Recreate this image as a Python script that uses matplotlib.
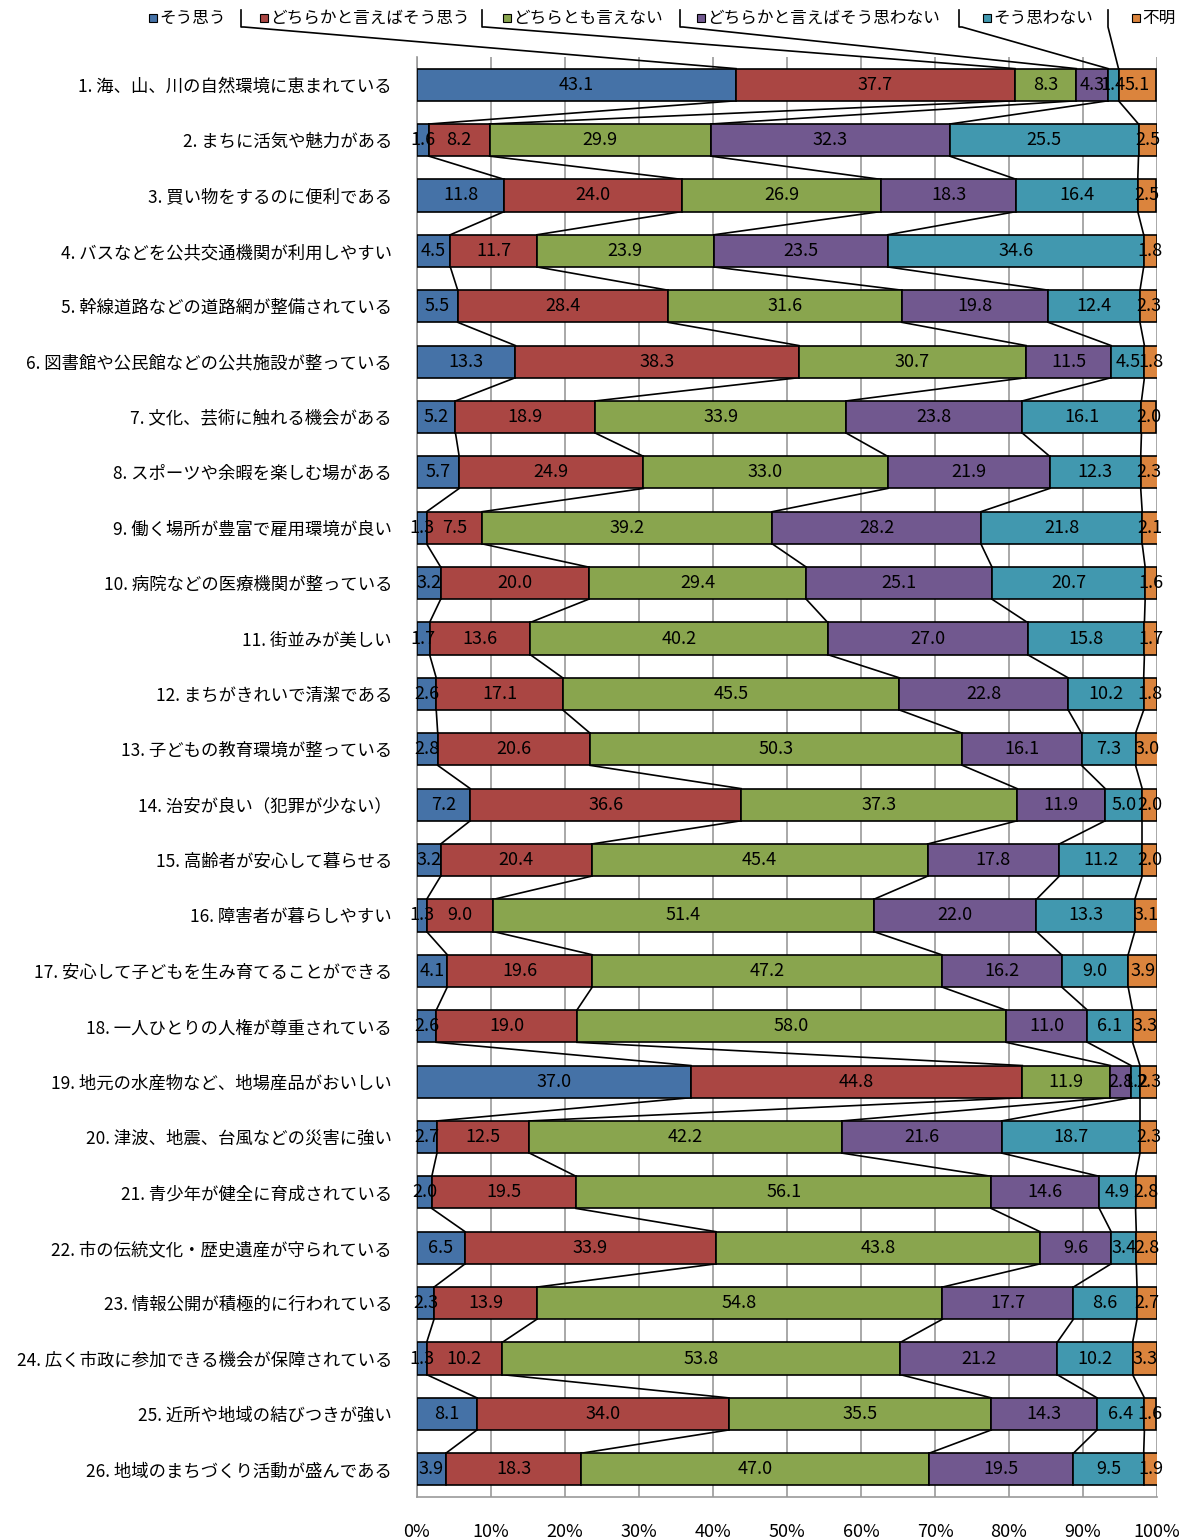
import matplotlib
matplotlib.use("Agg")
import matplotlib.pyplot as plt
from matplotlib.lines import Line2D
from matplotlib.patches import Rectangle
import numpy as np

plt.rcParams['font.family'] = ['Noto Sans CJK JP', 'DejaVu Sans']

categories = [
    "1. 海、山、川の自然環境に恵まれている",
    "2. まちに活気や魅力がある",
    "3. 買い物をするのに便利である",
    "4. バスなどを公共交通機関が利用しやすい",
    "5. 幹線道路などの道路網が整備されている",
    "6. 図書館や公民館などの公共施設が整っている",
    "7. 文化、芸術に触れる機会がある",
    "8. スポーツや余暇を楽しむ場がある",
    "9. 働く場所が豊富で雇用環境が良い",
    "10. 病院などの医療機関が整っている",
    "11. 街並みが美しい",
    "12. まちがきれいで清潔である",
    "13. 子どもの教育環境が整っている",
    "14. 治安が良い（犯罪が少ない）",
    "15. 高齢者が安心して暮らせる",
    "16. 障害者が暮らしやすい",
    "17. 安心して子どもを生み育てることができる",
    "18. 一人ひとりの人権が尊重されている",
    "19. 地元の水産物など、地場産品がおいしい",
    "20. 津波、地震、台風などの災害に強い",
    "21. 青少年が健全に育成されている",
    "22. 市の伝統文化・歴史遺産が守られている",
    "23. 情報公開が積極的に行われている",
    "24. 広く市政に参加できる機会が保障されている",
    "25. 近所や地域の結びつきが強い",
    "26. 地域のまちづくり活動が盛んである",
]

series_names = ["そう思う", "どちらかと言えばそう思う", "どちらとも言えない",
                "どちらかと言えばそう思わない", "そう思わない", "不明"]

sou_omou = [43.1, 1.6, 11.8, 4.5, 5.5, 13.3, 5.2, 5.7, 1.3, 3.2, 1.7, 2.6, 2.8,
            7.2, 3.2, 1.3, 4.1, 2.6, 37.0, 2.7, 2.0, 6.5, 2.3, 1.3, 8.1, 3.9]
dochira_sou = [37.7, 8.2, 24.0, 11.7, 28.4, 38.3, 18.9, 24.9, 7.5, 20.0, 13.6, 17.1, 20.6,
               36.6, 20.4, 9.0, 19.6, 19.0, 44.8, 12.5, 19.5, 33.9, 13.9, 10.2, 34.0, 18.3]
dochira_tomo = [8.3, 29.9, 26.9, 23.9, 31.6, 30.7, 33.9, 33.0, 39.2, 29.4, 40.2, 45.5, 50.3,
                37.3, 45.4, 51.4, 47.2, 58.0, 11.9, 42.2, 56.1, 43.8, 54.8, 53.8, 35.5, 47.0]
dochira_nai = [4.3, 32.3, 18.3, 23.5, 19.8, 11.5, 23.8, 21.9, 28.2, 25.1, 27.0, 22.8, 16.1,
               11.9, 17.8, 22.0, 16.2, 11.0, 2.8, 21.6, 14.6, 9.6, 17.7, 21.2, 14.3, 19.5]
sou_omowanai = [1.4, 25.5, 16.4, 34.6, 12.4, 4.5, 16.1, 12.3, 21.8, 20.7, 15.8, 10.2, 7.3,
                5.0, 11.2, 13.3, 9.0, 6.1, 1.2, 18.7, 4.9, 3.4, 8.6, 10.2, 6.4, 9.5]
fumei = [5.1, 2.5, 2.5, 1.8, 2.3, 1.8, 2.0, 2.3, 2.1, 1.6, 1.7, 1.8, 3.0,
         2.0, 2.0, 3.1, 3.9, 3.3, 2.3, 2.3, 2.8, 2.8, 2.7, 3.3, 1.6, 1.9]

x_ticks = [0, 10, 20, 30, 40, 50, 60, 70, 80, 90, 100]
x_tick_labels = ["0%", "10%", "20%", "30%", "40%", "50%", "60%", "70%", "80%", "90%", "100%"]

colors = ["#4572A7", "#AA4643", "#89A54E", "#71588F", "#4198AF", "#DB843D"]

W, H = 1187, 1540
fig = plt.figure(figsize=(W / 100, H / 100), dpi=100)
ax = fig.add_axes([417 / W, 1 - 1497 / H, (1157 - 417) / W, (1497 - 57) / H])

data = np.array([sou_omou, dochira_sou, dochira_tomo, dochira_nai, sou_omowanai, fumei])
n = len(categories)
y = np.arange(n)
bar_h = 0.58

left = np.zeros(n)
for k in range(data.shape[0]):
    vals = data[k]
    ax.barh(y, vals, left=left, height=bar_h, color=colors[k],
            edgecolor="black", linewidth=1.2, zorder=3)
    for i in range(n):
        ax.text(left[i] + vals[i] / 2, y[i], f"{vals[i]:.1f}", ha="center", va="center",
                fontsize=13, color="black", zorder=5)
    left = left + vals

# series lines joining stack boundaries of neighbouring bars
cum = np.cumsum(data, axis=0)
for k in range(data.shape[0] - 1):
    for i in range(n - 1):
        ax.plot([cum[k, i], cum[k, i + 1]], [y[i] + bar_h / 2, y[i + 1] - bar_h / 2],
                color="black", linewidth=1.2, zorder=2)

ax.set_xlim(0, 100)
ax.set_ylim(n - 0.5, -0.5)
ax.set_xticks(x_ticks)
ax.set_xticklabels(x_tick_labels, fontsize=13)
ax.set_yticks(y)
ax.set_yticklabels(categories, fontsize=12.5)
ax.tick_params(axis="y", length=0, pad=18)
ax.tick_params(axis="x", length=0, pad=19)
ax.grid(axis="x", color="#999999", linewidth=1.2, zorder=0)
ax.set_axisbelow(True)
for side in ["top", "right"]:
    ax.spines[side].set_visible(False)
for side in ["left", "bottom"]:
    ax.spines[side].set_color("#999999")
    ax.spines[side].set_linewidth(1.2)

# legend across the top, with leader lines to the first bar
def fig_xy(px, py):
    return px / W, 1 - py / H

legend_marker_x = [153, 264, 507, 701, 987, 1136]
bracket_x = [241, 482, 680, 959, 1108]
leg_y = 18
for k, name in enumerate(series_names):
    mx, my = fig_xy(legend_marker_x[k] - 4, leg_y + 4)
    fig.add_artist(Rectangle((mx, my), 8 / W, 8 / H, transform=fig.transFigure,
                             facecolor=colors[k], edgecolor="black", linewidth=0.8))
    tx, ty = fig_xy(legend_marker_x[k] + 6, leg_y)
    fig.text(tx, ty, name, ha="left", va="center", fontsize=12)

fig.canvas.draw()
inv = fig.transFigure.inverted()
for k, bx in enumerate(bracket_x):
    tgt = inv.transform(ax.transData.transform((cum[k, 0], y[0] - bar_h / 2)))
    p0 = fig_xy(bx, 10)
    p1 = fig_xy(bx, 27)
    p2 = fig_xy(bx + 3, 27) if k < 4 else p1
    fig.add_artist(Line2D([p0[0], p1[0], p2[0], tgt[0]], [p0[1], p1[1], p2[1], tgt[1]],
                          transform=fig.transFigure, color="black", linewidth=1.2))

fig.savefig("out.png", dpi=100)
